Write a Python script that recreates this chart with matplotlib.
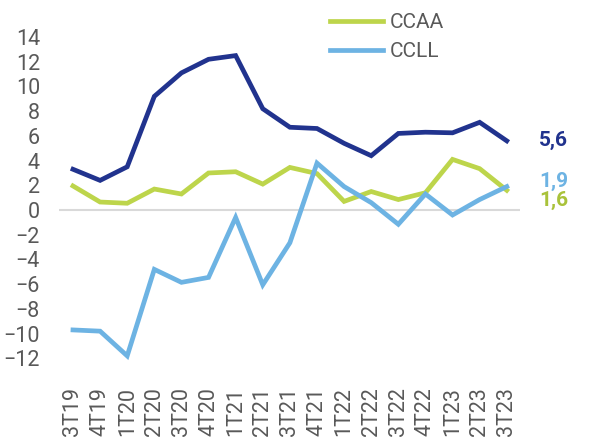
import numpy as np
import matplotlib
matplotlib.use("Agg")
from matplotlib import pyplot as plt

# datos
trimestres = ['3T19', '4T19', '1T20', '2T20', '3T20', '4T20', '1T21', '2T21', '3T21',
              '4T21', '1T22', '2T22', '3T22', '4T22', '1T23', '2T23', '3T23']
total = [3.3, 2.4, 3.5, 9.2, 11.1, 12.2, 12.5, 8.2, 6.7, 6.6, 5.4, 4.4, 6.2, 6.3, 6.25, 7.1, 5.6]
ccaa = [1.95, 0.65, 0.55, 1.7, 1.3, 3.0, 3.1, 2.1, 3.45, 2.95, 0.7, 1.5, 0.85, 1.4, 4.1, 3.35, 1.6]
ccll = [-9.7, -9.8, -11.8, -4.8, -5.85, -5.45, -0.6, -6.05, -2.65, 3.8, 1.9, 0.6, -1.15, 1.3, -0.4, 0.85, 1.9]

c_total = '#21338E'
c_ccaa = '#BDD54B'
c_ccll = '#6DB3E3'
gris = '#595959'

plt.rcParams['font.family'] = ['Roboto', 'DejaVu Sans']

fig = plt.figure(figsize=(5.89, 4.37), dpi=100)
ax = fig.add_axes([0.1009, 0.1517, 0.7825, 0.7918])

x = np.arange(len(trimestres))
ax.axhline(0, color='#D9D9D9', lw=1.5, zorder=1)
ax.plot(x, total, color=c_total, lw=3.4, solid_joinstyle='miter', zorder=3)
ax.plot(x, ccaa, color=c_ccaa, lw=3.4, label='CCAA', solid_joinstyle='miter', zorder=2)
ax.plot(x, ccll, color=c_ccll, lw=3.4, label='CCLL', solid_joinstyle='miter', zorder=2)

ax.set_xlim(-0.5, 16.5)
ax.set_ylim(-13, 15)
ax.set_yticks(range(-12, 15, 2))
ax.set_xticks(x)
ax.set_xticklabels(trimestres, rotation=90)
ax.tick_params(axis='both', length=0, labelsize=15.5, colors=gris)
ax.tick_params(axis='y', pad=14)
ax.tick_params(axis='x', pad=12)
for s in ax.spines.values():
    s.set_visible(False)

# etiquetas del ultimo valor
fmt = lambda v: ('%.1f' % v).replace('.', ',')
ax.text(17.2, total[-1], fmt(total[-1]), color=c_total, fontsize=15, fontweight='bold',
        va='center', ha='left', clip_on=False)
ax.text(17.2, ccll[-1] + 0.45, fmt(ccll[-1]), color=c_ccll, fontsize=15, fontweight='bold',
        va='center', ha='left', clip_on=False)
ax.text(17.2, ccaa[-1] - 0.8, fmt(ccaa[-1]), color='#A9C23A', fontsize=15, fontweight='bold',
        va='center', ha='left', clip_on=False)

fig.legend(loc='upper left', bbox_to_anchor=(330 / 589, 1 - 13 / 437), frameon=False,
           fontsize=15, handlelength=2.55, handletextpad=0.3, labelspacing=0.5,
           borderpad=0, borderaxespad=0, labelcolor=gris)

fig.savefig('out.png', dpi=100)
